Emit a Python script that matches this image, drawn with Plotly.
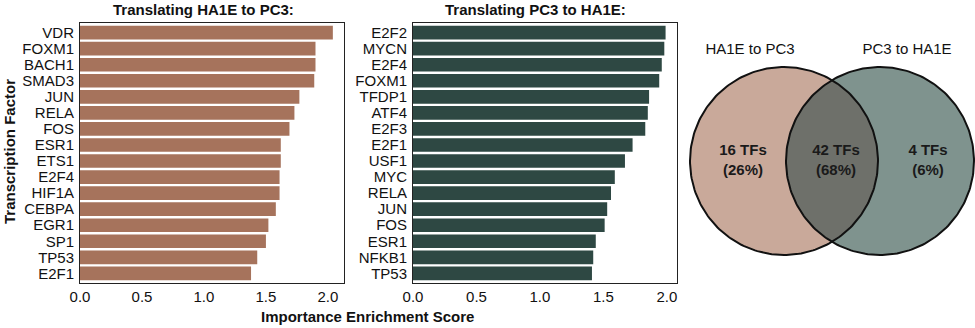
import numpy as np
import plotly.graph_objects as go

# ---- data ----
tf_ha1e_to_pc3 = ["VDR", "FOXM1", "BACH1", "SMAD3", "JUN", "RELA", "FOS", "ESR1",
                  "ETS1", "E2F4", "HIF1A", "CEBPA", "EGR1", "SP1", "TP53", "E2F1"]
score_ha1e_to_pc3 = [2.04, 1.90, 1.90, 1.89, 1.77, 1.73, 1.69, 1.62,
                     1.62, 1.61, 1.61, 1.58, 1.52, 1.50, 1.43, 1.38]

tf_pc3_to_ha1e = ["E2F2", "MYCN", "E2F4", "FOXM1", "TFDP1", "ATF4", "E2F3", "E2F1",
                  "USF1", "MYC", "RELA", "JUN", "FOS", "ESR1", "NFKB1", "TP53"]
score_pc3_to_ha1e = [1.99, 1.98, 1.96, 1.94, 1.86, 1.85, 1.83, 1.73,
                     1.67, 1.59, 1.56, 1.53, 1.51, 1.44, 1.42, 1.41]

x_ticks = [0.0, 0.5, 1.0, 1.5, 2.0]
x_tick_labels = ["0.0", "0.5", "1.0", "1.5", "2.0"]

venn_set_names = ["HA1E to PC3", "PC3 to HA1E"]
venn_counts = [16, 42, 4]          # only-left, shared, only-right
venn_percents = [26, 68, 6]

# ---- style ----
FONT = "Liberation Sans, Arial, sans-serif"
C_LEFT = "#a6735c"
C_MID = "#2e4843"
V_LEFT = "#c9a99a"
V_RIGHT = "#7f938e"
V_OVER = "#6e706a"

W, H = 975, 328
def px_x(p): return p / W
def px_y(p): return 1 - p / H

fig = go.Figure()

fig.add_trace(go.Bar(x=score_ha1e_to_pc3, y=tf_ha1e_to_pc3, orientation="h",
                     marker=dict(color=C_LEFT, line=dict(width=0)),
                     xaxis="x", yaxis="y", showlegend=False))
fig.add_trace(go.Bar(x=score_pc3_to_ha1e, y=tf_pc3_to_ha1e, orientation="h",
                     marker=dict(color=C_MID, line=dict(width=0)),
                     xaxis="x2", yaxis="y2", showlegend=False))

# ---- Venn on a pixel-unit axis ----
r = 94
cy = 161
cxl, cxr = 784, 880
t = np.linspace(0, 2 * np.pi, 241)

def circle(cx):
    return cx + r * np.cos(t), cy + r * np.sin(t)

d = cxr - cxl
a = d / 2
h = np.sqrt(r * r - a * a)
ang = np.arctan2(h, a)
th1 = np.linspace(-ang, ang, 80)
th2 = np.linspace(np.pi - ang, np.pi + ang, 80)
lx = np.concatenate([cxl + r * np.cos(th1), cxr + r * np.cos(th2)])
ly = np.concatenate([cy + r * np.sin(th1), cy + r * np.sin(th2)])

xl, yl = circle(cxl)
xr, yr = circle(cxr)
for xx, yy, fc in [(xl, yl, V_LEFT), (xr, yr, V_RIGHT), (lx, ly, V_OVER)]:
    fig.add_trace(go.Scatter(x=xx, y=yy, mode="lines", fill="toself", fillcolor=fc,
                             line=dict(color="rgba(0,0,0,0)", width=0),
                             xaxis="x3", yaxis="y3", showlegend=False, hoverinfo="skip"))
for xx, yy in [(xl, yl), (xr, yr)]:
    fig.add_trace(go.Scatter(x=xx, y=yy, mode="lines",
                             line=dict(color="#111111", width=2),
                             xaxis="x3", yaxis="y3", showlegend=False, hoverinfo="skip"))

venn_text_x = [743, 836, 928]
fig.add_trace(go.Scatter(
    x=venn_text_x, y=[cy, cy, cy], mode="text",
    text=[f"<b>{c} TFs<br>({p}%)</b>" for c, p in zip(venn_counts, venn_percents)],
    textfont=dict(family=FONT, size=15, color="#1a1a1a"),
    xaxis="x3", yaxis="y3", showlegend=False, hoverinfo="skip"))
fig.add_trace(go.Scatter(
    x=[750, 907], y=[50, 50], mode="text", text=venn_set_names,
    textfont=dict(family=FONT, size=15, color="#111111"),
    xaxis="x3", yaxis="y3", showlegend=False, hoverinfo="skip"))

ydom = [px_y(283), px_y(23)]
axis_common = dict(showline=True, linecolor="#222222", linewidth=1, mirror=True,
                   showgrid=False, zeroline=False, ticks="", automargin=False,
                   tickfont=dict(family=FONT, size=15, color="#111111"))

fig.update_layout(
    width=W, height=H, margin=dict(l=0, r=0, t=0, b=0, autoexpand=False),
    paper_bgcolor="white", plot_bgcolor="white", bargap=0.15,
    xaxis=dict(domain=[px_x(80), px_x(344)], range=[0, 2.13], ticklabelstandoff=0,
               tickvals=x_ticks, ticktext=x_tick_labels, anchor="y", **axis_common),
    yaxis=dict(domain=ydom, tickmode="array", tickvals=tf_ha1e_to_pc3,
               categoryorder="array", categoryarray=tf_ha1e_to_pc3,
               autorange=False, range=[15.6, -0.6], anchor="x", ticklabelstandoff=2,
               **axis_common),
    xaxis2=dict(domain=[px_x(413), px_x(677)], range=[0, 2.08], ticklabelstandoff=0,
                tickvals=x_ticks, ticktext=x_tick_labels, anchor="y2", **axis_common),
    yaxis2=dict(domain=ydom, tickmode="array", tickvals=tf_pc3_to_ha1e,
                categoryorder="array", categoryarray=tf_pc3_to_ha1e,
                autorange=False, range=[15.6, -0.6], anchor="x2", ticklabelstandoff=2,
                **axis_common),
    xaxis3=dict(domain=[px_x(680), 1], range=[680, 975], visible=False, fixedrange=True,
                automargin=False),
    yaxis3=dict(domain=[0, 1], range=[328, 0], visible=False, anchor="x3", fixedrange=True,
                automargin=False),
    annotations=[
        dict(text="<b>Translating HA1E to PC3:</b>", x=px_x(203), y=px_y(9),
             xref="paper", yref="paper", showarrow=False, xanchor="center", yanchor="middle",
             font=dict(family=FONT, size=15, color="#111111")),
        dict(text="<b>Translating PC3 to HA1E:</b>", x=px_x(535), y=px_y(9),
             xref="paper", yref="paper", showarrow=False, xanchor="center", yanchor="middle",
             font=dict(family=FONT, size=15, color="#111111")),
        dict(text="<b>Importance Enrichment Score</b>", x=px_x(367), y=px_y(316),
             xref="paper", yref="paper", showarrow=False, xanchor="center", yanchor="middle",
             font=dict(family=FONT, size=15, color="#111111")),
        dict(text="<b>Transcription Factor</b>", x=px_x(9), y=px_y(152),
             xref="paper", yref="paper", showarrow=False, textangle=-90,
             xanchor="center", yanchor="middle",
             font=dict(family=FONT, size=15, color="#111111")),
    ],
)

fig.write_html("out.html")
